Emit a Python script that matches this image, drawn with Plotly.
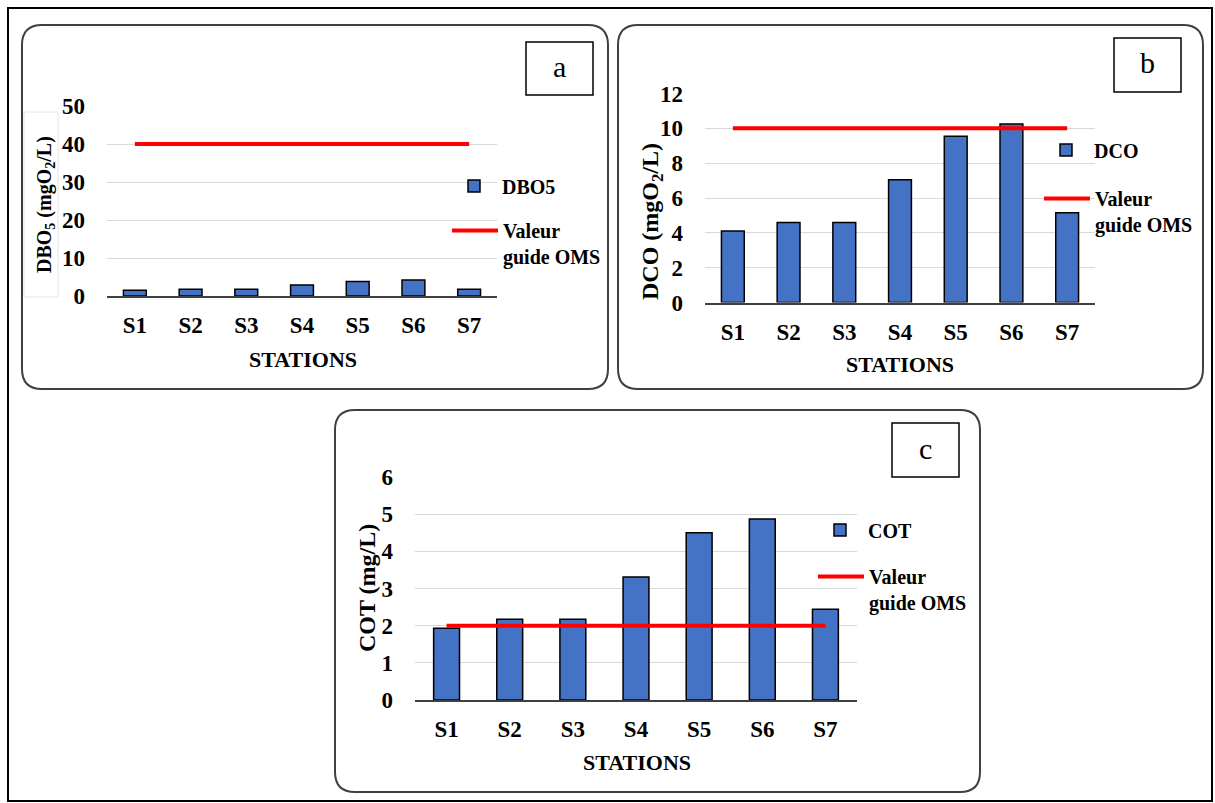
import plotly.graph_objects as go

W, H = 1215, 803

stations = ["S1", "S2", "S3", "S4", "S5", "S6", "S7"]
dbo5 = [1.5, 1.8, 1.8, 2.9, 3.8, 4.2, 1.8]
dbo5_guide = [40] * 7
dco = [4.1, 4.6, 4.6, 7.05, 9.55, 10.25, 5.15]
dco_guide = [10] * 7
cot = [1.93, 2.17, 2.17, 3.31, 4.5, 4.87, 2.44]
cot_guide = [2] * 7

FONT = "Liberation Serif, Times New Roman, DejaVu Serif, serif"
BAR_COLOR = "#4472C4"
RED = "#FF0000"


def px(x):
    return x / W


def py(y):
    return 1 - y / H


def rounded_path(x0, y0, x1, y1, r):
    pts = []
    pts.append(f"M{px(x0 + r)},{py(y0)}")
    pts.append(f"L{px(x1 - r)},{py(y0)}")
    pts.append(f"Q{px(x1)},{py(y0)} {px(x1)},{py(y0 + r)}")
    pts.append(f"L{px(x1)},{py(y1 - r)}")
    pts.append(f"Q{px(x1)},{py(y1)} {px(x1 - r)},{py(y1)}")
    pts.append(f"L{px(x0 + r)},{py(y1)}")
    pts.append(f"Q{px(x0)},{py(y1)} {px(x0)},{py(y1 - r)}")
    pts.append(f"L{px(x0)},{py(y0 + r)}")
    pts.append(f"Q{px(x0)},{py(y0)} {px(x0 + r)},{py(y0)}")
    pts.append("Z")
    return " ".join(pts)


fig = go.Figure()

panels = [
    dict(vals=dbo5, guide=dbo5_guide, name="DBO5", xa="x", ya="y", leg=("legend", "legend2")),
    dict(vals=dco, guide=dco_guide, name="DCO", xa="x2", ya="y2", leg=("legend3", "legend4")),
    dict(vals=cot, guide=cot_guide, name="COT", xa="x3", ya="y3", leg=("legend5", "legend6")),
]

for p in panels:
    fig.add_trace(go.Bar(
        x=stations, y=p["vals"], name=f"<b>{p['name']}</b>", xaxis=p["xa"], yaxis=p["ya"],
        marker=dict(color=BAR_COLOR, line=dict(color="black", width=1.5)),
        legend=p["leg"][0], hoverinfo="x+y",
    ))
    fig.add_trace(go.Scatter(
        x=stations, y=p["guide"], name="<b>Valeur<br>guide OMS</b>", mode="lines",
        xaxis=p["xa"], yaxis=p["ya"], line=dict(color=RED, width=4),
        legend=p["leg"][1], hoverinfo="x+y",
    ))

tickfont = dict(family=FONT, size=23, color="black")


def xaxis(x0, x1, anchor):
    return dict(domain=[px(x0), px(x1)], anchor=anchor, type="category",
                showline=True, linecolor="#404040", linewidth=1.5,
                ticks="", tickfont=tickfont, ticklabelstandoff=8,
                showgrid=False, zeroline=False, fixedrange=True, automargin=False,
                tickprefix="<b>", ticksuffix="</b>")


def yaxis(y0, y1, rng, dtick, anchor):
    return dict(domain=[py(y0), py(y1)], anchor=anchor, range=rng, dtick=dtick,
                showline=False, ticks="", tickfont=tickfont, ticklabelstandoff=21,
                showgrid=True, gridcolor="#D9D9D9", gridwidth=1,
                zeroline=False, fixedrange=True, automargin=False,
                tickprefix="<b>", ticksuffix="</b>")


fig.update_layout(
    width=W, height=H, autosize=False,
    margin=dict(l=0, r=0, t=0, b=0, pad=0, autoexpand=False),
    paper_bgcolor="white", plot_bgcolor="white",
    bargap=0.59,
    showlegend=True,
    font=dict(family=FONT, color="black"),
    xaxis=xaxis(107, 497, "y"),
    yaxis=yaxis(296, 106, [0, 50], 10, "x"),
    xaxis2=xaxis(705, 1095, "y2"),
    yaxis2=yaxis(302.5, 93.5, [0, 12], 2, "x2"),
    xaxis3=xaxis(415, 857, "y3"),
    yaxis3=yaxis(700, 477, [0, 6], 1, "x3"),
)

leg_font = dict(family=FONT, size=20, color="black")


def legend(x, y, valign="middle", yanchor="middle"):
    return dict(x=px(x), y=py(y), xanchor="left", yanchor=yanchor,
                bgcolor="rgba(0,0,0,0)", borderwidth=0, font=leg_font,
                itemwidth=46, valign=valign, tracegroupgap=0,
                itemclick=False, itemdoubleclick=False)


fig.update_layout(
    legend=legend(446, 186),
    legend2=legend(447, 211, valign="top", yanchor="top"),
    legend3=legend(1038, 150),
    legend4=legend(1039, 179, valign="top", yanchor="top"),
    legend5=legend(812, 530),
    legend6=legend(813, 557, valign="top", yanchor="top"),
)

shapes = []
# outer frame
shapes.append(dict(type="rect", xref="paper", yref="paper",
                   x0=px(8), x1=px(1212), y0=py(801), y1=py(8),
                   line=dict(color="black", width=2), layer="below"))
# rounded panel frames
for (x0, y0, x1, y1) in [(22, 25, 608, 389), (618, 25, 1203, 389), (335, 410, 980, 792)]:
    shapes.append(dict(type="path", xref="paper", yref="paper",
                       path=rounded_path(x0, y0, x1, y1, 20),
                       line=dict(color="#404040", width=2), layer="below"))
# faint box behind y title of panel a
shapes.append(dict(type="rect", xref="paper", yref="paper",
                   x0=px(24), x1=px(58), y0=py(297), y1=py(112),
                   line=dict(color="#E4E4E4", width=1), layer="below"))
# label boxes
label_boxes = [("a", 526, 42, 593, 95), ("b", 1114, 38, 1181, 92), ("c", 892, 423, 959, 477)]
annotations = []
for lab, x0, y0, x1, y1 in label_boxes:
    shapes.append(dict(type="rect", xref="paper", yref="paper",
                       x0=px(x0), x1=px(x1), y0=py(y1), y1=py(y0),
                       line=dict(color="black", width=1.5)))
    annotations.append(dict(text=lab, xref="paper", yref="paper",
                            x=px((x0 + x1) / 2), y=py((y0 + y1) / 2 - 2),
                            showarrow=False, xanchor="center", yanchor="middle",
                            font=dict(family=FONT, size=30, color="black")))

title_font = dict(family=FONT, size=22, color="black")
for txt, x, y in [("<b>STATIONS</b>", 303, 359), ("<b>STATIONS</b>", 900, 364),
                  ("<b>STATIONS</b>", 637, 762)]:
    annotations.append(dict(text=txt, xref="paper", yref="paper", x=px(x), y=py(y),
                            showarrow=False, xanchor="center", yanchor="middle",
                            font=title_font))

for txt, x, y, s in [("<b>DBO<sub>5</sub> (mgO<sub>2</sub>/L)</b>", 45, 205, 20),
                     ("<b>DCO (mgO<sub>2</sub>/L)</b>", 652, 222, 24),
                     ("<b>COT (mg/L)</b>", 367, 588, 24)]:
    annotations.append(dict(text=txt, xref="paper", yref="paper", x=px(x), y=py(y),
                            showarrow=False, xanchor="center", yanchor="middle",
                            textangle=-90, font=dict(family=FONT, size=s, color="black")))

fig.update_layout(shapes=shapes, annotations=annotations)

fig.write_html("out.html")
